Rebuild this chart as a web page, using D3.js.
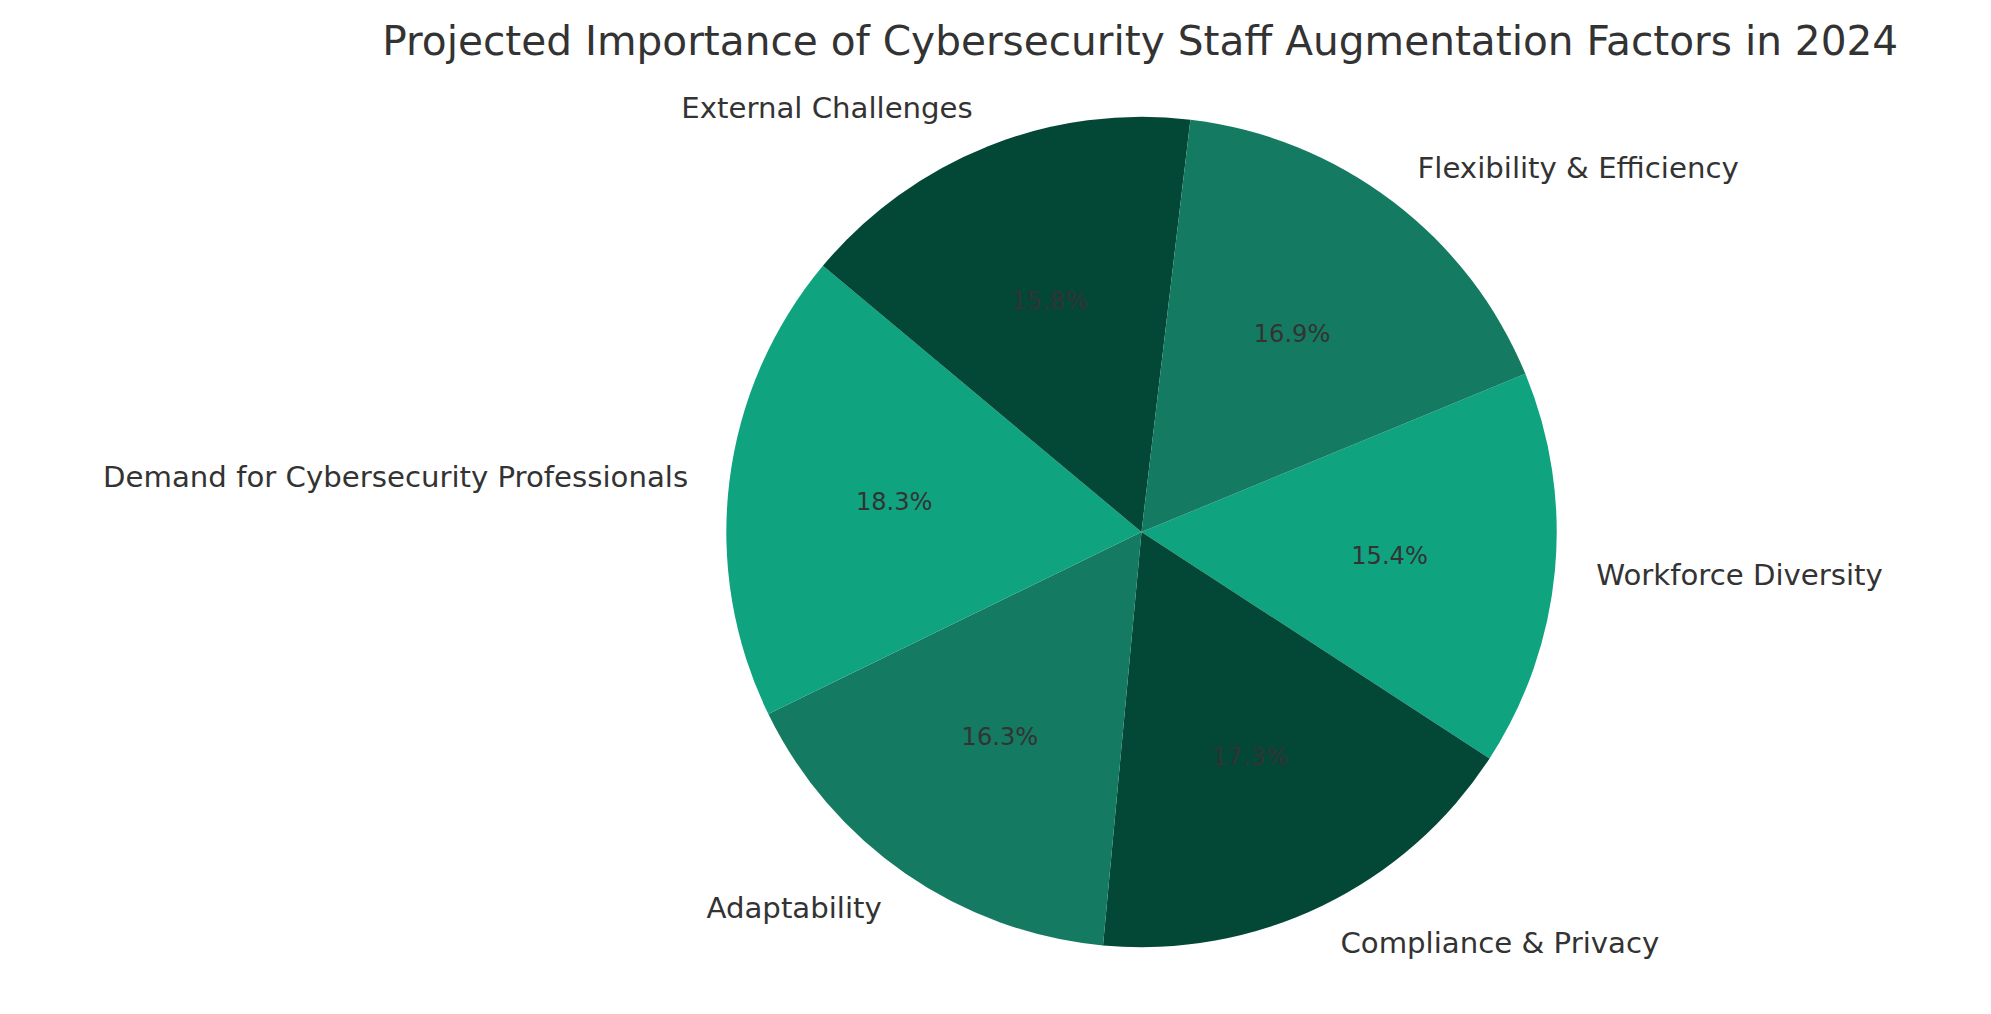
<!DOCTYPE html>
<html>
<head>
<meta charset="utf-8">
<script src="https://cdn.jsdelivr.net/npm/d3@7"></script>
<style>
  body { margin: 0; background: #fff; }
  text { font-family: "DejaVu Sans", sans-serif; fill: #333; }
</style>
</head>
<body>
<svg id="chart" width="1991" height="1014" viewBox="0 0 1568 798.6"></svg>
<script>
// counterclockwise order, as drawn
const labels = ['Flexibility & Efficiency', 'External Challenges', 'Demand for Cybersecurity Professionals',
  'Adaptability', 'Compliance & Privacy', 'Workforce Diversity']
const values = [16.9, 15.8, 18.3, 16.3, 17.3, 15.4]
const colors = ['#147a61', '#034737', '#10a37f', '#147a61', '#034737', '#10a37f']
const title = 'Projected Importance of Cybersecurity Staff Augmentation Factors in 2024'

const cx = 899, cy = 419, r = 327
const startDeg = 22.4 // ccw from +x, first slice

const svg = d3.select('#chart')

svg.append('text')
  .attr('x', 898).attr('y', 43)
  .attr('text-anchor', 'middle')
  .style('font-size', '32px')
  .text(title)

// d3 pie runs clockwise, so feed reversed data
const data = labels.map((l, i) => ({ label: l, value: values[i], color: colors[i] })).reverse()
const a0 = (90 - startDeg - 360) * Math.PI / 180
const pie = d3.pie().sort(null).value(d => d.value)
  .startAngle(a0).endAngle(a0 + 2 * Math.PI)
const arcs = pie(data)

const arc = d3.arc().innerRadius(0).outerRadius(r)
const g = svg.append('g').attr('transform', `translate(${cx}, ${cy})`)

g.selectAll('path')
  .data(arcs)
  .enter()
  .append('path')
  .attr('d', arc)
  .attr('fill', d => d.data.color)

const pos = (d, k) => {
  const a = (d.startAngle + d.endAngle) / 2
  return [Math.sin(a) * r * k, -Math.cos(a) * r * k]
}

g.selectAll('.pct')
  .data(arcs)
  .enter()
  .append('text')
  .attr('class', 'pct')
  .attr('x', d => pos(d, 0.6)[0])
  .attr('y', d => pos(d, 0.6)[1])
  .attr('text-anchor', 'middle')
  .attr('dy', '0.35em')
  .style('font-size', '19px')
  .text(d => d.data.value.toFixed(1) + '%')

g.selectAll('.lbl')
  .data(arcs)
  .enter()
  .append('text')
  .attr('class', 'lbl')
  .attr('x', d => pos(d, 1.1)[0])
  .attr('y', d => pos(d, 1.1)[1])
  .attr('text-anchor', d => pos(d, 1)[0] > 0 ? 'start' : 'end')
  .attr('dy', '0.35em')
  .style('font-size', '23px')
  .text(d => d.data.label)
</script>
</body>
</html>
